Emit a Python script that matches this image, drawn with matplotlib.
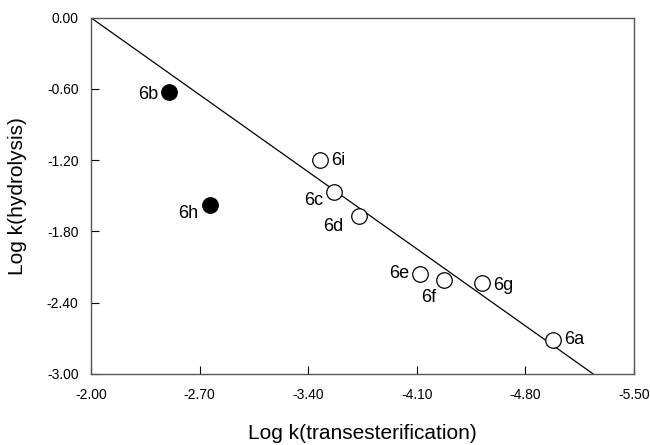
import numpy as np
import matplotlib.pyplot as plt

plt.rcParams["font.family"] = ["Liberation Sans", "DejaVu Sans"]

# data
labels = ["6b", "6h", "6i", "6c", "6d", "6e", "6f", "6g", "6a"]
log_k_trans = [-2.506, -2.765, -3.479, -3.568, -3.726, -4.124, -4.276, -4.524, -4.981]
log_k_hydro = [-0.626, -1.581, -1.202, -1.469, -1.674, -2.157, -2.207, -2.235, -2.713]
filled = [True, True, False, False, False, False, False, False, False]

# fitted line through the origin corner
line_x = [-2.00, -5.237]
line_y = [0.00, -3.00]

x_ticks = [-2.00, -2.70, -3.40, -4.10, -4.80, -5.50]
y_ticks = [-3.00, -2.40, -1.80, -1.20, -0.60, 0.00]

# label offsets in points (dx, dy, ha, va)
label_pos = {
    "6b": (-8, -2, "right", "center"),
    "6h": (-8, -6, "right", "center"),
    "6i": (8, 0, "left", "center"),
    "6c": (-8, -6, "right", "center"),
    "6d": (-11, -7, "right", "center"),
    "6e": (-8, 0, "right", "center"),
    "6f": (-11, -13, "center", "center"),
    "6g": (8, -2, "left", "center"),
    "6a": (8, 0, "left", "center"),
}

fig = plt.figure(figsize=(6.5, 4.45), dpi=100)
ax = fig.add_axes([0.14, 0.16, 0.835, 0.80])

ax.plot(line_x, line_y, color="black", linewidth=0.9, zorder=1)

for x, y, f, lab in zip(log_k_trans, log_k_hydro, filled, labels):
    ax.scatter(x, y, s=125, facecolor="black" if f else "white",
               edgecolor="black", linewidth=0.9, zorder=3)
    dx, dy, ha, va = label_pos[lab]
    ax.annotate(lab, (x, y), xytext=(dx, dy), textcoords="offset points",
                ha=ha, va=va, fontsize=13)

ax.set_xlim(-2.00, -5.50)
ax.set_ylim(-3.00, 0.00)
ax.set_xticks(x_ticks)
ax.set_yticks(y_ticks)
ax.set_xticklabels([f"{v:.2f}" for v in x_ticks])
ax.set_yticklabels([f"{v:.2f}" for v in y_ticks])
ax.tick_params(direction="in", length=6, width=0.8, labelsize=10)
ax.tick_params(axis="x", pad=10)
ax.tick_params(axis="y", pad=9)

for s in ax.spines.values():
    s.set_color("#555555")
    s.set_linewidth(1.0)

ax.set_xlabel("Log k(transesterification)", fontsize=15, labelpad=16)
ax.set_ylabel("Log k(hydrolysis)", fontsize=15, labelpad=14)

fig.savefig("out.png", dpi=100)
